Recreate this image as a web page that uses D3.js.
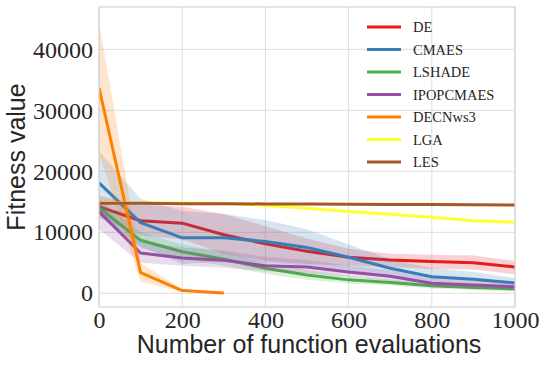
<!DOCTYPE html>
<html><head><meta charset="utf-8">
<script src="https://cdn.jsdelivr.net/npm/d3@7"></script>
<style>body{margin:0;background:#fff}svg{display:block}</style>
</head><body>
<svg id="c" width="548" height="366"></svg>
<script>
const evals = [0,100,200,300,400,500,600,700,800,900,1000];
const seriesNames = ["DE","CMAES","LSHADE","IPOPCMAES","DECNws3","LGA","LES"];
const colors = ["#e41a1c","#377eb8","#4daf4a","#984ea3","#ff7f00","#ffff33","#a65628"];
const deMean = [14200,11900,11500,9600,8100,6900,5900,5450,5200,5000,4300];
const deUp   = [16000,14500,14200,13000,11000,9000,7300,6500,6300,6200,5300];
const deLo   = [12500,9500,8800,6500,5300,4800,4500,4300,4000,3900,3100];
const cmMean = [18100,11600,9100,9100,8500,7500,5900,4100,2700,2300,1700];
const cmUp   = [23300,15500,13500,13000,12000,10500,8000,5600,4100,3500,2500];
const cmLo   = [13000,7700,4800,5200,5000,4500,3800,2600,1400,1100,900];
const lsMean = [14000,8700,6800,5600,4100,3000,2200,1750,1250,950,700];
const lsUp   = [15500,10000,8000,6800,5000,3800,2800,2200,1700,1400,1100];
const lsLo   = [12500,7400,5600,4500,3200,2200,1600,1300,800,550,350];
const ipMean = [13400,6600,5800,5400,4500,4300,3500,2800,1650,1350,1080];
const ipUp   = [15000,8500,7500,7000,6000,5500,4500,3800,2500,2100,1700];
const ipLo   = [10500,5000,4500,4200,3600,3300,2700,2000,1000,800,600];
const dcEvals= [0,100,200,300];
const dcMean = [33700,3400,450,50];
const dcUp   = [44600,5000,650,100];
const dcLo   = [23000,1900,250,0];
const lgMean = [14800,14800,14800,14750,14400,13950,13400,12950,12450,11900,11650];
const leMean = [14750,14750,14700,14700,14650,14650,14600,14580,14550,14520,14480];
const xTicks = [0,200,400,600,800,1000];
const yTicks = [0,10000,20000,30000,40000];

const series = [
  {x:evals, m:deMean, lo:deLo, up:deUp},
  {x:evals, m:cmMean, lo:cmLo, up:cmUp},
  {x:evals, m:lsMean, lo:lsLo, up:lsUp},
  {x:evals, m:ipMean, lo:ipLo, up:ipUp},
  {x:dcEvals, m:dcMean, lo:dcLo, up:dcUp},
  {x:evals, m:lgMean, lo:lgMean, up:lgMean},
  {x:evals, m:leMean, lo:leMean, up:leMean}
];

const L=99, R=515, T=7, B=307;
const svg = d3.select("#c");
const x = d3.scaleLinear().domain([0,1000]).range([L,R]);
const y = d3.scaleLinear().domain([-2250,46950]).range([B,T]);

// grid
const grid = svg.append("g");
grid.selectAll("line.v").data(xTicks).join("line")
  .attr("x1",d=>x(d)).attr("x2",d=>x(d)).attr("y1",T).attr("y2",B)
  .attr("stroke","#dedede").attr("stroke-width",1);
grid.selectAll("line.h").data(yTicks).join("line")
  .attr("x1",L).attr("x2",R).attr("y1",d=>y(d)).attr("y2",d=>y(d))
  .attr("stroke","#dedede").attr("stroke-width",1);

svg.append("clipPath").attr("id","clip").append("rect")
  .attr("x",L).attr("y",T).attr("width",R-L).attr("height",B-T);
const plot = svg.append("g").attr("clip-path","url(#clip)");

const area = d3.area().x(d=>x(d.x)).y0(d=>y(d.lo)).y1(d=>y(d.up));
const line = d3.line().x(d=>x(d.x)).y(d=>y(d.m));
series.forEach((s,k)=>{
  const pts = s.x.map((xv,i)=>({x:xv, m:s.m[i], lo:s.lo[i], up:s.up[i]}));
  plot.append("path").datum(pts).attr("d",area)
    .attr("fill",colors[k]).attr("fill-opacity",0.2).attr("stroke","none");
  plot.append("path").datum(pts).attr("d",line)
    .attr("fill","none").attr("stroke",colors[k]).attr("stroke-width",3)
    .attr("stroke-linejoin","round");
});

// frame
svg.append("rect").attr("x",L).attr("y",T).attr("width",R-L).attr("height",B-T)
  .attr("fill","none").attr("stroke","#d6d6d6").attr("stroke-width",1.25);

// axes
const xa = svg.append("g").attr("transform",`translate(0,${B})`)
  .call(d3.axisBottom(x).tickValues(xTicks).tickSize(0).tickPadding(4).tickFormat(d3.format("d")));
const ya = svg.append("g").attr("transform",`translate(${L},0)`)
  .call(d3.axisLeft(y).tickValues(yTicks).tickSize(0).tickPadding(6).tickFormat(d3.format("d")));
[xa,ya].forEach(a=>{
  a.select(".domain").remove();
  a.selectAll("text").attr("font-family","'Liberation Serif','Times New Roman',serif")
    .attr("font-size",24).attr("fill","#262626");
});

svg.append("text").attr("x",(L+R)/2+2).attr("y",353).attr("text-anchor","middle")
  .attr("font-family","'Liberation Sans',Arial,sans-serif").attr("font-size",25)
  .attr("fill","#262626").text("Number of function evaluations");
svg.append("text").attr("transform",`translate(25,${(T+B)/2}) rotate(-90)`)
  .attr("text-anchor","middle")
  .attr("font-family","'Liberation Sans',Arial,sans-serif").attr("font-size",25)
  .attr("fill","#262626").text("Fitness value");

// legend
const lg = svg.append("g");
seriesNames.forEach((n,i)=>{
  const yy = 27 + i*22.5;
  lg.append("line").attr("x1",367).attr("x2",401).attr("y1",yy).attr("y2",yy)
    .attr("stroke",colors[i]).attr("stroke-width",3);
  lg.append("text").attr("x",413).attr("y",yy+5).text(n)
    .attr("font-family","'Liberation Serif','Times New Roman',serif")
    .attr("font-size",14.5).attr("fill","#262626");
});
</script>
</body></html>
